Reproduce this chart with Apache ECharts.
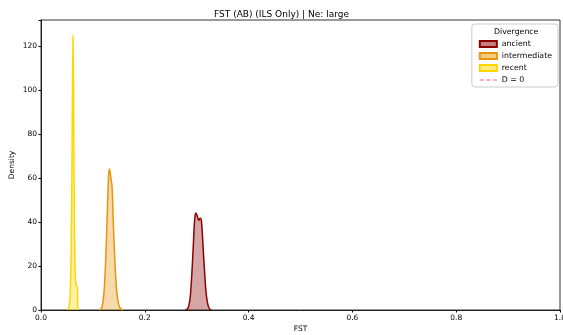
<!DOCTYPE html>
<html>
<head>
<meta charset="utf-8">
<script src="https://cdn.jsdelivr.net/npm/echarts@6/dist/echarts.min.js"></script>
<style>
  html, body { margin: 0; padding: 0; background: #fff; }
  #chart { width: 563px; height: 335px; }
</style>
</head>
<body>
<div id="chart"></div>
<script>
// density curves: [FST, density]
var ancient = [
  [0.278, 0], [0.282, 0.5], [0.285, 2], [0.288, 7], [0.291, 18], [0.294, 32],
  [0.296, 41], [0.298, 44.2], [0.300, 43.5], [0.302, 42], [0.304, 40.8],
  [0.306, 41.6], [0.308, 41.8], [0.310, 38], [0.312, 30], [0.315, 18],
  [0.318, 8], [0.321, 3], [0.324, 0.8], [0.328, 0]
]
var intermediate = [
  [0.112, 0], [0.116, 0.5], [0.119, 3], [0.122, 10], [0.125, 25], [0.128, 46],
  [0.130, 60], [0.1315, 64.3], [0.133, 63], [0.135, 59.5], [0.137, 56],
  [0.139, 42], [0.142, 24], [0.145, 11], [0.148, 4.5], [0.151, 1.5],
  [0.155, 0.3], [0.158, 0]
]
var recent = [
  [0.0515, 0], [0.054, 1.5], [0.056, 6], [0.058, 25], [0.0595, 60],
  [0.0607, 105], [0.0617, 125], [0.0627, 100], [0.0637, 60], [0.0647, 32],
  [0.066, 16], [0.068, 11], [0.0705, 10], [0.0707, 0]
]
var yTicks = [0, 20, 40, 60, 80, 100, 120]

var font = 'DejaVu Sans'
var chart = echarts.init(document.getElementById('chart'))

function curve (name, data, line, fill) {
  return {
    name: name,
    type: 'line',
    data: data,
    smooth: 0.3,
    symbol: 'none',
    lineStyle: { color: line, width: 1.5 },
    itemStyle: { color: fill, borderColor: line, borderWidth: 1.5 },
    areaStyle: { color: fill },
    z: 3
  }
}

chart.setOption({
  animation: false,
  textStyle: { fontFamily: font },
  title: {
    text: 'FST (AB) (ILS Only) | Ne: large',
    left: 'center',
    top: 5,
    textStyle: { fontFamily: font, fontSize: 9, fontWeight: 'normal', color: '#000' }
  },
  grid: {
    left: 41, right: 3, top: 20, bottom: 25,
    containLabel: false,
    outerBoundsMode: 'none',
    show: true,
    borderColor: '#000',
    borderWidth: 0.8
  },
  xAxis: {
    type: 'value',
    min: 0,
    max: 1,
    interval: 0.2,
    name: 'FST',
    nameLocation: 'middle',
    nameMoveOverlap: false,
    nameGap: 15,
    nameTextStyle: { fontSize: 7.5, color: '#000' },
    axisLine: { lineStyle: { color: '#000', width: 0.8 } },
    axisTick: { length: 2.5, lineStyle: { color: '#000' } },
    axisLabel: {
      fontSize: 7.5, color: '#000', margin: 4,
      formatter: function (v) { return v.toFixed(1) }
    },
    splitLine: { show: false }
  },
  yAxis: {
    type: 'value',
    min: 0,
    max: 132,
    interval: 20,
    name: 'Density',
    nameLocation: 'middle',
    nameMoveOverlap: false,
    nameGap: 25,
    nameTextStyle: { fontSize: 7.5, color: '#000' },
    axisLine: { show: true, lineStyle: { color: '#000', width: 0.8 } },
    axisTick: { show: true, length: 2.5, lineStyle: { color: '#000' } },
    axisLabel: {
      fontSize: 7.5, color: '#000', margin: 4,
      formatter: function (v) { return yTicks.indexOf(v) >= 0 ? v : '' }
    },
    splitLine: { show: false }
  },
  graphic: [{
    type: 'text',
    left: 494,
    top: 28,
    z: 100,
    style: { text: 'Divergence', fontFamily: font, fontSize: 7.8, fill: '#000' }
  }],
  legend: {
    orient: 'vertical',
    right: 5,
    top: 24,
    padding: [16, 6, 3, 7],
    itemWidth: 17,
    itemHeight: 6,
    itemGap: 4,
    backgroundColor: '#fff',
    borderColor: '#ccc',
    borderWidth: 1,
    borderRadius: 3,
    textStyle: { fontFamily: font, fontSize: 7.8, color: '#000' },
    data: [
      { name: 'ancient', icon: 'rect' },
      { name: 'intermediate', icon: 'rect' },
      { name: 'recent', icon: 'rect' },
      { name: 'D = 0', icon: 'path://M0,3h4v1h-4zM6.5,3h4v1h-4zM13,3h4v1h-4z' }
    ]
  },
  series: [
    curve('ancient', ancient, '#8b0000', 'rgba(139,0,0,0.5)'),
    curve('intermediate', intermediate, '#e8950c', 'rgba(232,150,20,0.5)'),
    curve('recent', recent, '#ffd700', 'rgba(255,215,0,0.5)'),
    {
      name: 'D = 0',
      type: 'line',
      data: [],
      symbol: 'none',
      itemStyle: { color: '#f0606a', borderWidth: 0 },
      lineStyle: { color: '#f0606a', type: [3, 2], width: 1 }
    }
  ]
})
</script>
</body>
</html>
